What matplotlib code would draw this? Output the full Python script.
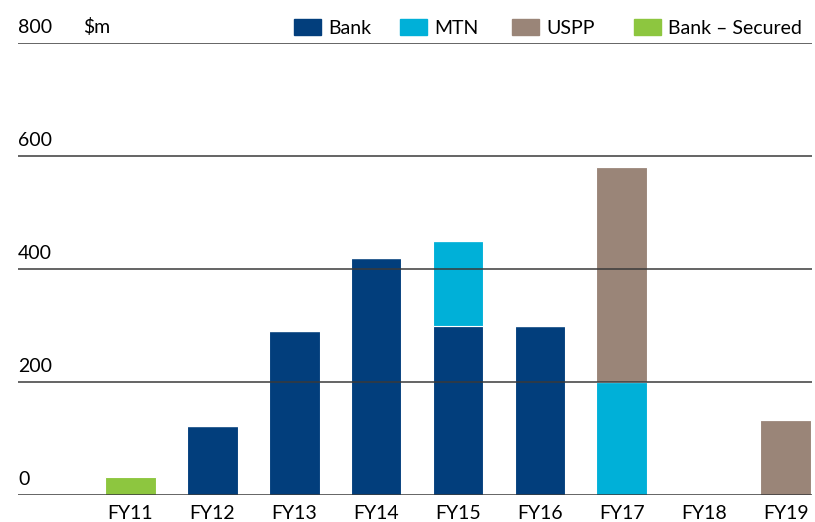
import numpy as np
import matplotlib.pyplot as plt
from matplotlib.patches import Rectangle
import matplotlib.transforms as mtransforms

plt.rcParams['font.family'] = ['Lato', 'DejaVu Sans']

# data ($m)
years = ['FY11', 'FY12', 'FY13', 'FY14', 'FY15', 'FY16', 'FY17', 'FY18', 'FY19']
bank = [0, 122, 290, 420, 300, 300, 0, 0, 0]
mtn = [0, 0, 0, 0, 150, 0, 200, 0, 0]
uspp = [0, 0, 0, 0, 0, 0, 380, 0, 132]
bank_secured = [32, 0, 0, 0, 0, 0, 0, 0, 0]
yticks = [0, 200, 400, 600, 800]

series = [('Bank', bank, '#023E7C'),
          ('MTN', mtn, '#00B0D8'),
          ('USPP', uspp, '#9A8578'),
          ('Bank – Secured', bank_secured, '#8DC63F')]

fig = plt.figure(figsize=(8.15, 5.22), dpi=100)
ax = fig.add_axes([18 / 815, 27 / 522, 794 / 815, 452 / 522])

x = np.arange(len(years))
bottom = np.zeros(len(years))
for name, vals, col in series:
    vals = np.array(vals, dtype=float)
    ax.bar(x, vals, width=0.62, bottom=bottom, color=col,
           edgecolor='white', linewidth=0.8, zorder=2)
    bottom += vals

ax.set_xlim(-1.37, 8.32)
ax.set_ylim(0, 800)

# gridlines on top of the bars, labels sitting above them
trans = mtransforms.blended_transform_factory(ax.transAxes, ax.transData)
for t in yticks:
    ax.axhline(t, color='#3a3a3a', linewidth=1.1, zorder=3)
    ax.text(0, t + 12, str(t), transform=trans, ha='left', va='bottom',
            fontsize=14, color='black')
ax.text(65 / 794, 812, '$m', transform=trans, ha='left', va='bottom',
        fontsize=14, color='black')

ax.set_yticks([])
ax.set_xticks(x)
ax.set_xticklabels(years, fontsize=14)
ax.tick_params(axis='x', length=0, pad=7)
for s in ax.spines.values():
    s.set_visible(False)

# legend along the top
leg_x = [294, 400, 512, 634]
for (name, vals, col), lx in zip(series, leg_x):
    fig.patches.append(Rectangle((lx / 815, 1 - 35 / 522), 27 / 815, 16 / 522,
                                 transform=fig.transFigure, color=col))
    fig.text((lx + 34) / 815, 1 - 34 / 522, name, fontsize=14,
             ha='left', va='baseline', color='black')

fig.savefig('out.png', dpi=100)
